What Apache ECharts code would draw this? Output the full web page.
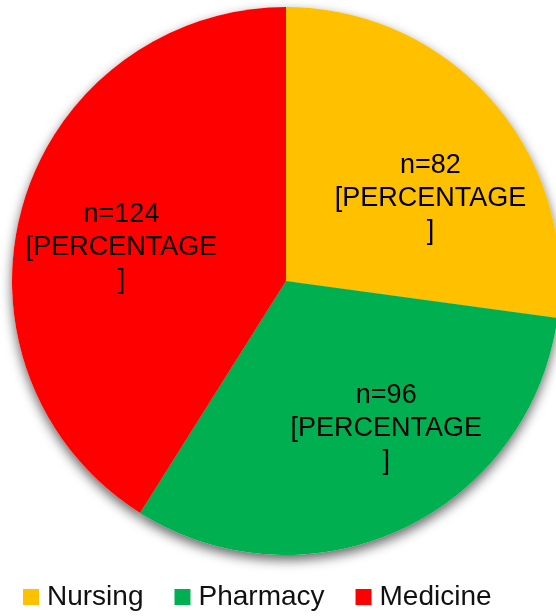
<!DOCTYPE html>
<html>
<head>
<meta charset="utf-8">
<style>
  html, body { margin: 0; padding: 0; background: #ffffff; }
  #chart { width: 556px; height: 616px; }
</style>
<script src="https://cdn.jsdelivr.net/npm/echarts@6/dist/echarts.min.js"></script>
</head>
<body>
<div id="chart"></div>
<script>
// Respondents by profession
const categories = ['Nursing', 'Pharmacy', 'Medicine'];
const counts = [82, 96, 124];
const sliceColors = ['#FFC000', '#00B050', '#FF0000'];
// nudges for the in-slice labels, in pixels
const labelOffsets = [[39, 10], [41, 21], [-30, 5]];

const FONT = '"Liberation Sans", Arial, sans-serif';

const mainData = categories.map((name, i) => ({
  name,
  value: counts[i],
  itemStyle: { color: sliceColors[i] },
  label: { offset: labelOffsets[i] }
}));

// same slices, drawn underneath only to cast the soft drop shadow
const shadowData = categories.map((name, i) => ({ name, value: counts[i] }));

const chart = echarts.init(document.getElementById('chart'), null, { renderer: 'canvas' });

chart.setOption({
  animation: false,
  backgroundColor: '#ffffff',
  legend: {
    data: categories,
    left: 23,
    top: 583,
    padding: 0,
    icon: 'rect',
    itemWidth: 16,
    itemHeight: 16,
    itemGap: 31,
    textStyle: {
      fontFamily: FONT,
      fontSize: 28,
      color: '#111111',
      padding: [0, 0, 0, 3]
    }
  },
  series: [
    {
      name: 'Profession',
      type: 'pie',
      center: [286, 281],
      radius: [0, 274],
      startAngle: 90,
      clockwise: true,
      z: 3,
      itemStyle: { borderWidth: 0 },
      label: {
        show: true,
        position: 'inside',
        formatter: 'n={c}\n[PERCENTAGE\n]',
        fontFamily: FONT,
        fontSize: 27,
        lineHeight: 33,
        color: '#000000'
      },
      labelLine: { show: false },
      emphasis: { disabled: true },
      data: mainData
    },
    {
      name: 'shadow',
      type: 'pie',
      center: [286, 281],
      radius: [0, 274],
      startAngle: 90,
      clockwise: true,
      z: 1,
      silent: true,
      label: { show: false },
      labelLine: { show: false },
      emphasis: { disabled: true },
      itemStyle: {
        color: '#ffffff',
        borderWidth: 0,
        shadowColor: 'rgba(0,0,0,0.6)',
        shadowBlur: 12,
        shadowOffsetX: 0,
        shadowOffsetY: 5
      },
      data: shadowData
    }
  ]
});
</script>
</body>
</html>
